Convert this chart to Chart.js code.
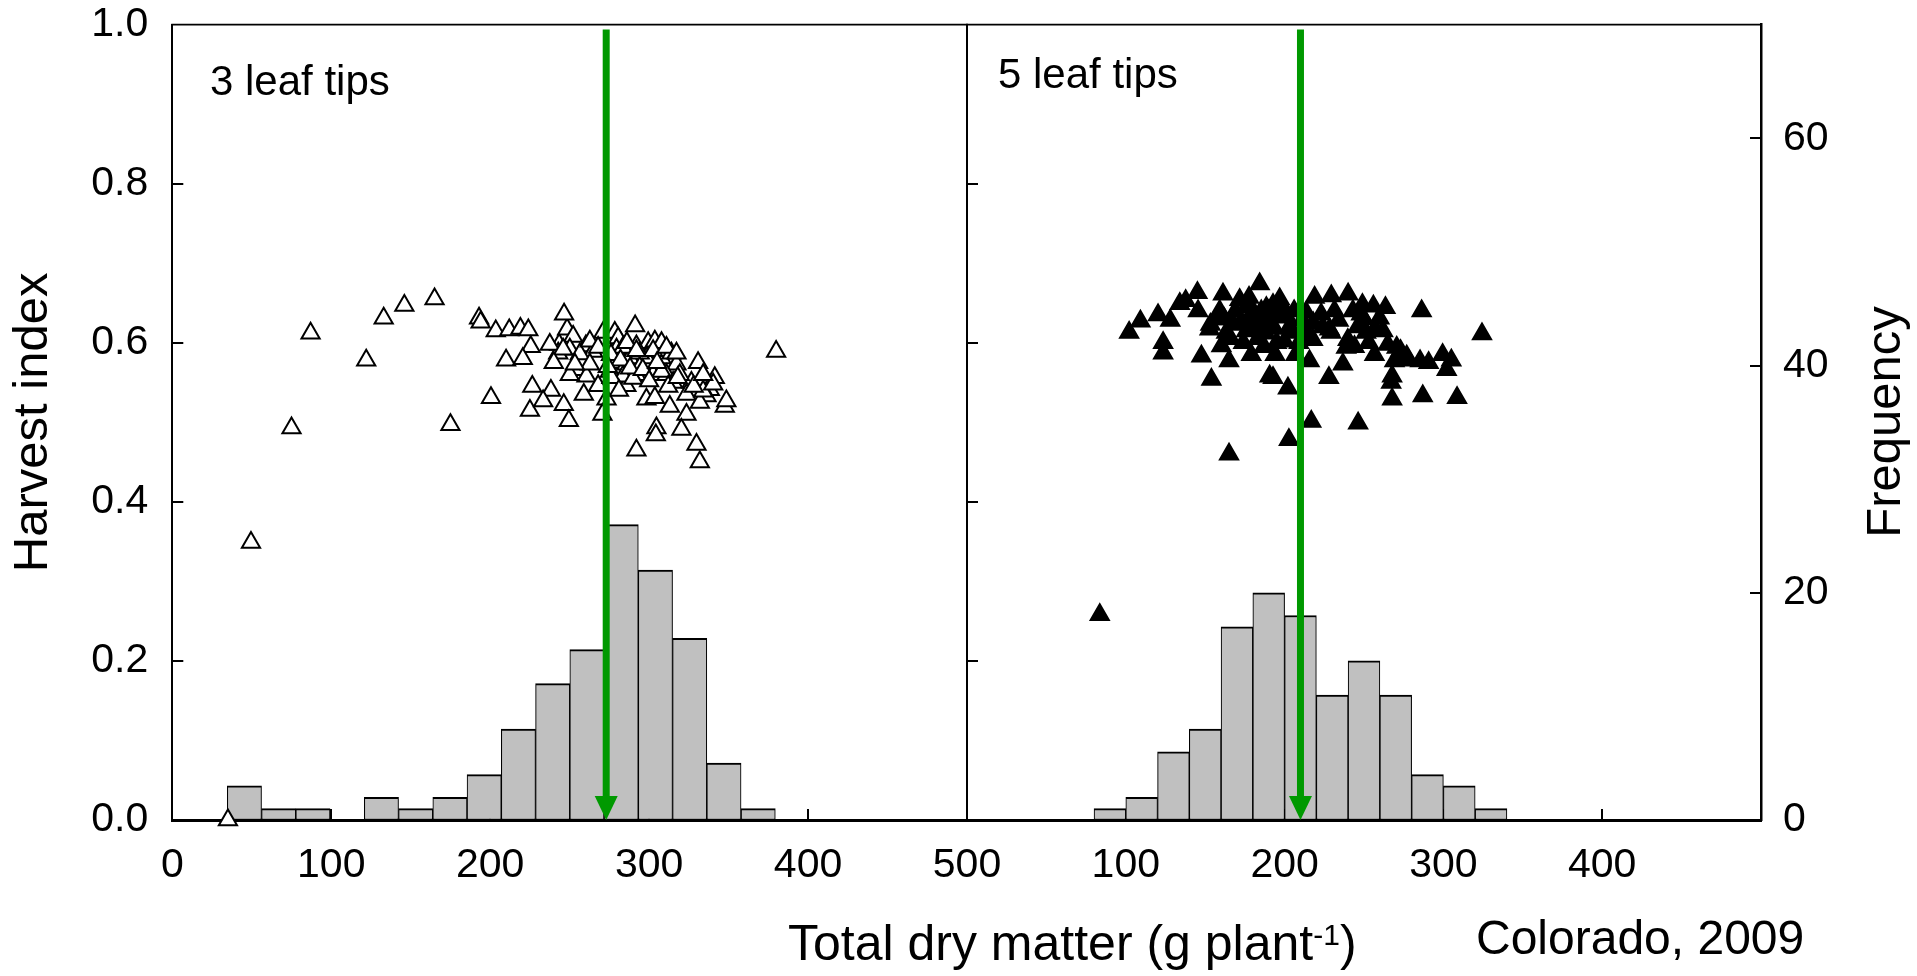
<!DOCTYPE html>
<html>
<head>
<meta charset="utf-8">
<script src="https://cdn.jsdelivr.net/npm/chart.js@4.4.1/dist/chart.umd.min.js"></script>
<style>
  html, body { margin: 0; padding: 0; background: #fff; }
  #wrap { position: relative; width: 1917px; height: 976px; }
  #wrap canvas { position: absolute; left: 0; top: 0; }
</style>
</head>
<body>
<div id="wrap">
  <canvas id="leftChart" width="1917" height="976"></canvas>
  <canvas id="rightChart" width="1917" height="976"></canvas>
</div>
<script>
// total dry matter (g/plant) vs harvest index, one pair per plant
const leaf3 = [
  [35, 0.0], [49.5, 0.349], [75, 0.493], [87, 0.612], [122, 0.578], [133, 0.631], [146, 0.647],
  [165, 0.655], [175, 0.497], [193, 0.631], [194, 0.626], [200.5, 0.531], [203.5, 0.615], [212, 0.616],
  [219, 0.618], [224, 0.616], [225.5, 0.595], [210, 0.578], [220.5, 0.580], [226.5, 0.545], [225, 0.515],
  [243.4, 0.598], [248.4, 0.617], [252.2, 0.608], [250.1, 0.592], [260.2, 0.596], [264.8, 0.589],
  [242.8, 0.587], [237.5, 0.598], [254.3, 0.566], [260.6, 0.558], [250.1, 0.560], [238.2, 0.540],
  [233.3, 0.527], [246.3, 0.522], [249.5, 0.502], [258.9, 0.535], [267.9, 0.546], [273.2, 0.529],
  [270.6, 0.510], [275.3, 0.564], [271.1, 0.613], [278.4, 0.613], [280.5, 0.606], [279.5, 0.592],
  [277.4, 0.575], [285.7, 0.573], [288.9, 0.587], [292.0, 0.596], [287.8, 0.581], [298.3, 0.581],
  [299.4, 0.600], [303.6, 0.602], [307.8, 0.600], [307.8, 0.581], [302.5, 0.560], [292.0, 0.560],
  [285.7, 0.546], [298.3, 0.529], [303.6, 0.531], [314.0, 0.587], [317.2, 0.573], [310.9, 0.560],
  [315.1, 0.550], [330.8, 0.575], [326.6, 0.550], [323.5, 0.535], [313.0, 0.520], [323.5, 0.510],
  [341.3, 0.556], [338.2, 0.541], [336.1, 0.533], [331.9, 0.525], [347.6, 0.520], [304.6, 0.493],
  [304.2, 0.484], [320.3, 0.491], [292.0, 0.465], [329.8, 0.472], [331.9, 0.450], [246.5, 0.636],
  [291.2, 0.621], [379.9, 0.589], [256.4, 0.586], [262.7, 0.602], [267.9, 0.594], [283.6, 0.594],
  [294.1, 0.587], [302.5, 0.590], [310.9, 0.594], [283.6, 0.558], [294.1, 0.569], [307.8, 0.564],
  [319.3, 0.560], [334, 0.539], [340.3, 0.548], [348.6, 0.527], [317.2, 0.587], [276.3, 0.556],
  [262.7, 0.573], [253.3, 0.573], [245.9, 0.592], [276, 0.585], [282, 0.578], [286, 0.600],
  [290, 0.555], [274, 0.570], [281, 0.540], [288, 0.568], [292, 0.590], [296, 0.566], [300, 0.552],
  [305, 0.575], [312, 0.545], [318, 0.556], [328, 0.545], [334, 0.560], [240, 0.575]
];

const leaf5 = [
  [83.6, 0.258], [102.1, 0.613], [109.2, 0.627], [120.3, 0.635], [123.5, 0.600], [123.5, 0.587],
  [134, 0.649], [137.7, 0.653], [145.1, 0.663], [145.5, 0.640], [153.3, 0.623], [147.6, 0.583],
  [153.9, 0.554], [161.2, 0.661], [159.1, 0.640], [163.3, 0.613], [160.2, 0.596], [165, 0.577],
  [171.7, 0.654], [177.6, 0.657], [184.3, 0.674], [179, 0.585], [175.9, 0.615], [188.5, 0.644],
  [192.7, 0.648], [196.9, 0.655], [191.6, 0.625], [184.3, 0.619], [200, 0.602], [190.6, 0.558],
  [192.7, 0.556], [202.1, 0.543], [205.2, 0.613], [215.7, 0.577], [217.8, 0.604], [218.9, 0.657],
  [229.4, 0.659], [228.3, 0.617], [227.9, 0.556], [216.8, 0.501], [202.7, 0.478], [165, 0.460],
  [213.6, 0.638], [201.1, 0.634], [167.5, 0.623], [152.8, 0.617], [180.1, 0.640], [185.3, 0.640],
  [240, 0.661], [248.2, 0.636], [255.9, 0.646], [263.5, 0.644], [259.7, 0.631], [286.3, 0.640],
  [324.3, 0.611], [223, 0.636], [231.4, 0.640], [229.3, 0.613], [239.8, 0.604], [251.3, 0.613],
  [238.8, 0.594], [236.7, 0.573], [256.6, 0.585], [265, 0.598], [270.6, 0.594], [269.2, 0.577],
  [276.9, 0.583], [285.3, 0.577], [290.7, 0.575], [299.5, 0.585], [302.1, 0.566], [267.7, 0.558],
  [267.1, 0.550], [267.7, 0.529], [287, 0.533], [308.6, 0.531], [246.3, 0.499], [215.7, 0.606],
  [162, 0.630], [166, 0.605], [169, 0.640], [172, 0.625], [174, 0.600], [178, 0.632], [176, 0.645],
  [181, 0.622], [183, 0.605], [186, 0.630], [188, 0.612], [190, 0.640], [193, 0.618], [195, 0.600],
  [197, 0.632], [199, 0.645], [187, 0.595], [194, 0.585], [203, 0.620], [206, 0.640], [209, 0.600],
  [211, 0.628], [214, 0.612], [218, 0.625], [207, 0.585], [224, 0.620], [234, 0.628], [243, 0.640],
  [246, 0.620], [250, 0.630], [253, 0.600], [257, 0.618], [244, 0.595], [249, 0.648], [262, 0.615],
  [273, 0.590], [278, 0.578], [157, 0.630], [128, 0.628], [305, 0.578]
];

// histogram of total dry matter (right-hand frequency axis)
const binStart3 = 34.6;
const binWidth3 = 21.55;
const counts3 = [3, 1, 1, 0, 2, 1, 2, 4, 8, 12, 15, 26, 22, 16, 5, 1];

const binStart5 = 80;
const binWidth5 = 20;
const counts5 = [1, 2, 6, 8, 17, 20, 18, 11, 14, 11, 4, 3, 1];

// mean total dry matter marked by the green arrows
const meanTdm3 = 273;
const meanTdm5 = 210;

const FONT = '"Liberation Sans", Arial, Helvetica, sans-serif';
Chart.defaults.font.family = FONT;
Chart.defaults.color = '#000';

function toPoints(pairs) {
  return pairs.map(([x, y]) => ({ x, y }));
}
function toBins(start, width, counts) {
  return counts.map((c, i) => ({ x: start + (i + 0.5) * width, y: c }));
}

// short tick marks pointing into the plot, plus the top edge of the frame
const innerTicks = {
  id: 'innerTicks',
  beforeDatasetsDraw(chart, args, opts) {
    const { ctx, chartArea: a } = chart;
    ctx.save();
    ctx.strokeStyle = '#000';
    ctx.lineWidth = 2;
    (opts.axes || []).forEach(id => {
      const s = chart.scales[id];
      s.ticks.forEach(t => {
        if (t.value <= s.min || t.value >= s.max) return;
        const p = Math.round(s.getPixelForValue(t.value));
        ctx.beginPath();
        if (s.position === 'left') { ctx.moveTo(a.left, p); ctx.lineTo(a.left + 11, p); }
        else if (s.position === 'right') { ctx.moveTo(a.right, p); ctx.lineTo(a.right - 11, p); }
        else { ctx.moveTo(p, a.bottom); ctx.lineTo(p, a.bottom - 11); }
        ctx.stroke();
      });
    });
    ctx.lineWidth = 1.7;
    ctx.beginPath();
    ctx.moveTo(a.left - 1, a.top);
    ctx.lineTo(a.right + 1, a.top);
    ctx.stroke();
    ctx.restore();
  }
};

// vertical arrow at the mean
const meanArrow = {
  id: 'meanArrow',
  afterDatasetsDraw(chart, args, opts) {
    const { ctx } = chart;
    const x = chart.scales.x.getPixelForValue(opts.value);
    const yTop = chart.scales.y.getPixelForValue(opts.from);
    const yTip = chart.scales.y.getPixelForValue(0);
    ctx.save();
    ctx.strokeStyle = '#009900';
    ctx.fillStyle = '#009900';
    ctx.lineWidth = 7;
    ctx.beginPath();
    ctx.moveTo(x, yTop);
    ctx.lineTo(x, yTip - 18);
    ctx.stroke();
    ctx.beginPath();
    ctx.moveTo(x - 11.5, yTip - 24);
    ctx.lineTo(x + 11.5, yTip - 24);
    ctx.lineTo(x, yTip);
    ctx.closePath();
    ctx.fill();
    ctx.restore();
  }
};

// free text: panel names, axis title pieces, site label
const freeText = {
  id: 'freeText',
  afterDraw(chart, args, opts) {
    const { ctx } = chart;
    (opts.items || []).forEach(it => {
      ctx.save();
      ctx.fillStyle = '#000';
      ctx.translate(it.x, it.y);
      if (it.rotate) ctx.rotate(it.rotate);
      ctx.textAlign = it.align || 'left';
      ctx.textBaseline = it.baseline || 'alphabetic';
      let dx = 0;
      (it.parts || [{ text: it.text, size: it.size }]).forEach(p => {
        ctx.font = p.size + 'px ' + FONT;
        ctx.fillText(p.text, dx, -(p.rise || 0));
        dx += ctx.measureText(p.text).width;
      });
      ctx.restore();
    });
  }
};

const tickFont = { size: 41 };
const noGrid = { display: false, drawTicks: false };

function xScale(labelFn) {
  return {
    type: 'linear', min: 0, max: 500, offset: false,
    grid: noGrid,
    border: { display: true, color: '#000', width: 3 },
    ticks: { stepSize: 100, padding: 21, font: tickFont, maxRotation: 0, autoSkip: false, callback: labelFn },
    afterFit: s => { s.height = 156; s.paddingLeft = 0; s.paddingRight = 0; }
  };
}

const barStyle = {
  backgroundColor: '#c0c0c0',
  borderColor: '#000',
  borderWidth: { top: 2, left: 1.1, right: 1.1, bottom: 1.5 },
  borderSkipped: false,
  barPercentage: 1,
  categoryPercentage: 1,
  order: 1
};

new Chart(document.getElementById('leftChart'), {
  type: 'bar',
  data: {
    datasets: [
      {
        type: 'scatter', data: toPoints(leaf3), xAxisID: 'x', yAxisID: 'y',
        pointStyle: 'triangle', pointRadius: 10.5, backgroundColor: '#fff',
        borderColor: '#000', borderWidth: 2, clip: false, order: 0
      },
      Object.assign({ type: 'bar', data: toBins(binStart3, binWidth3, counts3), xAxisID: 'x', yAxisID: 'freq' }, barStyle)
    ]
  },
  options: {
    responsive: false,
    animation: false,
    events: [],
    layout: { padding: { left: 0, top: 24.7, right: 950, bottom: 0 } },
    plugins: {
      legend: { display: false },
      tooltip: { enabled: false },
      innerTicks: { axes: ['x', 'y'] },
      meanArrow: { value: meanTdm3, from: 0.994 },
      freeText: { items: [{ text: '3 leaf tips', x: 210, y: 95, size: 42 }] }
    },
    scales: {
      x: xScale(v => String(v)),
      y: {
        position: 'left', min: 0, max: 1,
        grid: noGrid,
        border: { display: true, color: '#000', width: 2 },
        ticks: { stepSize: 0.2, padding: 24, font: tickFont, callback: v => v.toFixed(1) },
        title: { display: true, text: 'Harvest index', font: { size: 49 }, padding: { top: 4, bottom: 0 }, color: '#000' },
        afterFit: s => { s.width = 172.3; s.paddingTop = 0; s.paddingBottom = 0; }
      },
      freq: { display: false, position: 'right', min: 0, max: 70 }
    }
  },
  plugins: [innerTicks, meanArrow, freeText]
});

new Chart(document.getElementById('rightChart'), {
  type: 'bar',
  data: {
    datasets: [
      {
        type: 'scatter', data: toPoints(leaf5), xAxisID: 'x', yAxisID: 'y',
        pointStyle: 'triangle', pointRadius: 10.5, backgroundColor: '#000',
        borderColor: '#000', borderWidth: 2, clip: false, order: 0
      },
      Object.assign({ type: 'bar', data: toBins(binStart5, binWidth5, counts5), xAxisID: 'x', yAxisID: 'freq' }, barStyle)
    ]
  },
  options: {
    responsive: false,
    animation: false,
    events: [],
    layout: { padding: { left: 967, top: 24.7, right: 0, bottom: 0 } },
    plugins: {
      legend: { display: false },
      tooltip: { enabled: false },
      innerTicks: { axes: ['x', 'y', 'freq'] },
      meanArrow: { value: meanTdm5, from: 0.994 },
      freeText: {
        items: [
          { text: '5 leaf tips', x: 998, y: 88, size: 42 },
          { text: 'Frequency', x: 1886, y: 422, size: 49, rotate: -Math.PI / 2, align: 'center', baseline: 'middle' },
          {
            x: 788, y: 960,
            parts: [
              { text: 'Total dry matter (g plant', size: 50 },
              { text: '-1', size: 30, rise: 15 },
              { text: ')', size: 50 }
            ]
          },
          { text: 'Colorado, 2009', x: 1476, y: 954, size: 48 }
        ]
      }
    },
    scales: {
      x: xScale(v => (v === 0 || v === 500) ? '' : String(v)),
      y: {
        position: 'left', min: 0, max: 1,
        grid: noGrid,
        border: { display: true, color: '#000', width: 2 },
        ticks: { stepSize: 0.2, display: false },
        afterFit: s => { s.width = 0; s.paddingTop = 0; s.paddingBottom = 0; }
      },
      freq: {
        position: 'right', min: 0, max: 70,
        grid: noGrid,
        border: { display: true, color: '#000', width: 2.5 },
        ticks: { stepSize: 20, includeBounds: false, padding: 22, font: tickFont },
        afterFit: s => { s.width = 156; s.paddingTop = 0; s.paddingBottom = 0; }
      }
    }
  },
  plugins: [innerTicks, meanArrow, freeText]
});
</script>
</body>
</html>
